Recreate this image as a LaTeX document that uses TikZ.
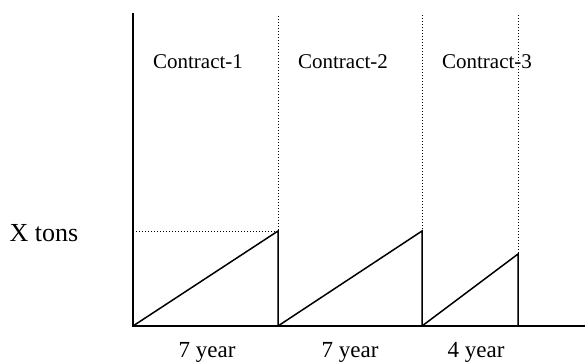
\documentclass[tikz,border=0pt]{standalone}
\usepackage{fontspec}
\setmainfont{Liberation Serif}

\begin{document}
\begin{tikzpicture}[x=1pt,y=-1pt]
        \useasboundingbox (0,0) rectangle (585,363);
        \tikzset{axis/.style={line width=1.7pt},
                 saw/.style={line width=1.5pt},
                 guide/.style={dotted,line width=1pt}}

        % Points
        \coordinate (O) at (133,326);
        \coordinate (ytop) at (133,13);
        \coordinate (xend) at (585,326);
        \coordinate (p1) at (278,231);
        \coordinate (b1) at (278,326);
        \coordinate (t1) at (278,16);
        \coordinate (p2) at (422,231);
        \coordinate (b2) at (422,326);
        \coordinate (t2) at (422,15);
        \coordinate (p3) at (518,254);
        \coordinate (b3) at (518,326);
        \coordinate (t3) at (518,15);
        \coordinate (h1) at (133,231);

        % Axes
        \draw[axis] (ytop) -- (O) -- (xend);

        % Dotted guides
        \draw[guide] (t1) -- (p1);
        \draw[guide] (t2) -- (p2);
        \draw[guide] (t3) -- (p3);
        \draw[guide] (h1) -- (p1);

        % Sawtooth
        \draw[saw] (O) -- (p1) -- (b1);
        \draw[saw] (b1) -- (p2) -- (b2);
        \draw[saw] (b2) -- (p3) -- (b3);

        % Labels
        \node[font=\fontsize{21}{25}\selectfont] (c1) at (198,62) {Contract-1};
        \node[font=\fontsize{21}{25}\selectfont] (c2) at (343,62) {Contract-2};
        \node[font=\fontsize{21}{25}\selectfont] (c3) at (487,62) {Contract-3};
        \node[font=\fontsize{26}{30}\selectfont] (xt) at (44,233) {X tons};
        \node[font=\fontsize{23}{27}\selectfont] (y1) at (207,352) {7 year};
        \node[font=\fontsize{23}{27}\selectfont] (y2) at (350,352) {7 year};
        \node[font=\fontsize{23}{27}\selectfont] (y3) at (476,352) {4 year};
\end{tikzpicture}
\end{document}
